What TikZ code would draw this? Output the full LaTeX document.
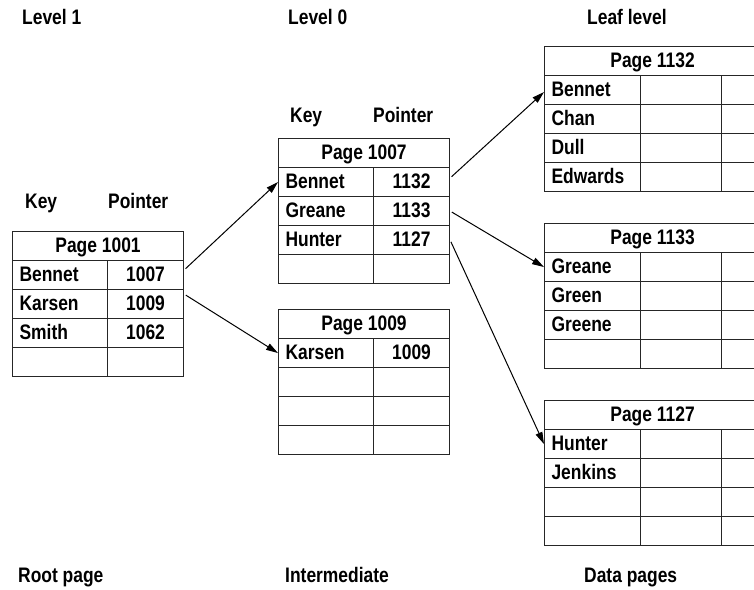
\documentclass[tikz,border=0pt]{standalone}
\usepackage{fontspec}
\newfontfamily\tblfam{Liberation Sans}[FakeStretch=0.83]
\newcommand\mytfont{\tblfam\bfseries\fontsize{21}{25}\selectfont}
\usetikzlibrary{arrows.meta,calc}
\begin{document}
\begin{tikzpicture}[x=1pt,y=-1pt,
  cellbase/.style={draw=black!85, line width=1.1pt, inner sep=0pt, anchor=north west,
    minimum height=29pt, text height=15pt, text depth=2pt, font=\mytfont},
  hdrcell/.style={cellbase, minimum width=171pt},
  keycell/.style={cellbase, text width=81pt, inner xsep=7pt, align=left},
  ptrcell/.style={cellbase, minimum width=76pt},
  leafhdr/.style={cellbase, minimum width=216pt},
  leafkey/.style={cellbase, text width=82pt, inner xsep=7pt, align=left},
  leaftwo/.style={cellbase, minimum width=81pt},
  leafthree/.style={cellbase, minimum width=39pt},
  lbl/.style={font=\mytfont, inner sep=0pt, anchor=base west},
  arr/.style={line width=1pt, -{Triangle[length=12pt,width=7pt]}, shorten <=2pt}
]
\useasboundingbox[fill=white] (0,0) rectangle (754,589);

% labels
\node[lbl] (lv1) at (22,24) {Level 1};
\node[lbl] (lv0) at (288,24) {Level 0};
\node[lbl] (lvl) at (587,24) {Leaf level};
\node[lbl] (keyR) at (25,208) {Key};
\node[lbl] (ptrR) at (108,208) {Pointer};
\node[lbl] (keyA) at (290,122) {Key};
\node[lbl] (ptrA) at (373,122) {Pointer};
\node[lbl] (bRoot) at (18,582) {Root page};
\node[lbl] (bInt) at (285,582) {Intermediate};
\node[lbl] (bData) at (584,582) {Data pages};

% root page 1001
\node[hdrcell] (Rh) at (12,231) {Page 1001};
\node[keycell] (R1k) at (12,260) {Bennet}; \node[ptrcell] (R1p) at (107,260) {1007};
\node[keycell] (R2k) at (12,289) {Karsen}; \node[ptrcell] (R2p) at (107,289) {1009};
\node[keycell] (R3k) at (12,318) {Smith};  \node[ptrcell] (R3p) at (107,318) {1062};
\node[keycell] (R4k) at (12,347) {};       \node[ptrcell] (R4p) at (107,347) {};

% page 1007
\node[hdrcell] (Ah) at (278,138) {Page 1007};
\node[keycell] (A1k) at (278,167) {Bennet}; \node[ptrcell] (A1p) at (373,167) {1132};
\node[keycell] (A2k) at (278,196) {Greane}; \node[ptrcell] (A2p) at (373,196) {1133};
\node[keycell] (A3k) at (278,225) {Hunter}; \node[ptrcell] (A3p) at (373,225) {1127};
\node[keycell] (A4k) at (278,254) {};       \node[ptrcell] (A4p) at (373,254) {};

% page 1009
\node[hdrcell] (Bh) at (278,309) {Page 1009};
\node[keycell] (B1k) at (278,338) {Karsen}; \node[ptrcell] (B1p) at (373,338) {1009};
\node[keycell] (B2k) at (278,367) {};       \node[ptrcell] (B2p) at (373,367) {};
\node[keycell] (B3k) at (278,396) {};       \node[ptrcell] (B3p) at (373,396) {};
\node[keycell] (B4k) at (278,425) {};       \node[ptrcell] (B4p) at (373,425) {};

% leaf 1132
\node[leafhdr] (Ch) at (544,46) {Page 1132};
\node[leafkey] (C1k) at (544,75)  {Bennet};  \node[leaftwo] (C1b) at (640,75)  {}; \node[leafthree] (C1c) at (721,75)  {};
\node[leafkey] (C2k) at (544,104) {Chan};    \node[leaftwo] (C2b) at (640,104) {}; \node[leafthree] (C2c) at (721,104) {};
\node[leafkey] (C3k) at (544,133) {Dull};    \node[leaftwo] (C3b) at (640,133) {}; \node[leafthree] (C3c) at (721,133) {};
\node[leafkey] (C4k) at (544,162) {Edwards}; \node[leaftwo] (C4b) at (640,162) {}; \node[leafthree] (C4c) at (721,162) {};

% leaf 1133
\node[leafhdr] (Dh) at (544,223) {Page 1133};
\node[leafkey] (D1k) at (544,252) {Greane}; \node[leaftwo] (D1b) at (640,252) {}; \node[leafthree] (D1c) at (721,252) {};
\node[leafkey] (D2k) at (544,281) {Green};  \node[leaftwo] (D2b) at (640,281) {}; \node[leafthree] (D2c) at (721,281) {};
\node[leafkey] (D3k) at (544,310) {Greene}; \node[leaftwo] (D3b) at (640,310) {}; \node[leafthree] (D3c) at (721,310) {};
\node[leafkey] (D4k) at (544,339) {};       \node[leaftwo] (D4b) at (640,339) {}; \node[leafthree] (D4c) at (721,339) {};

% leaf 1127
\node[leafhdr] (Eh) at (544,400) {Page 1127};
\node[leafkey] (E1k) at (544,429) {Hunter};  \node[leaftwo] (E1b) at (640,429) {}; \node[leafthree] (E1c) at (721,429) {};
\node[leafkey] (E2k) at (544,458) {Jenkins}; \node[leaftwo] (E2b) at (640,458) {}; \node[leafthree] (E2c) at (721,458) {};
\node[leafkey] (E3k) at (544,487) {};        \node[leaftwo] (E3b) at (640,487) {}; \node[leafthree] (E3c) at (721,487) {};
\node[leafkey] (E4k) at (544,516) {};        \node[leaftwo] (E4b) at (640,516) {}; \node[leafthree] (E4c) at (721,516) {};

% connectors
\draw[arr] ($(R1p.east)+(0,-5)$) -- (A1k.west);
\draw[arr] ($(R2p.east)+(0,-10)$) -- (B1k.west);
\draw[arr] ($(A1p.east)+(0,-4)$) -- ($(C1k.west)+(0,2)$);
\draw[arr] (A2p.east) -- (D1k.west);
\draw[arr] (A3p.east) -- (E1k.west);
\end{tikzpicture}
\end{document}
